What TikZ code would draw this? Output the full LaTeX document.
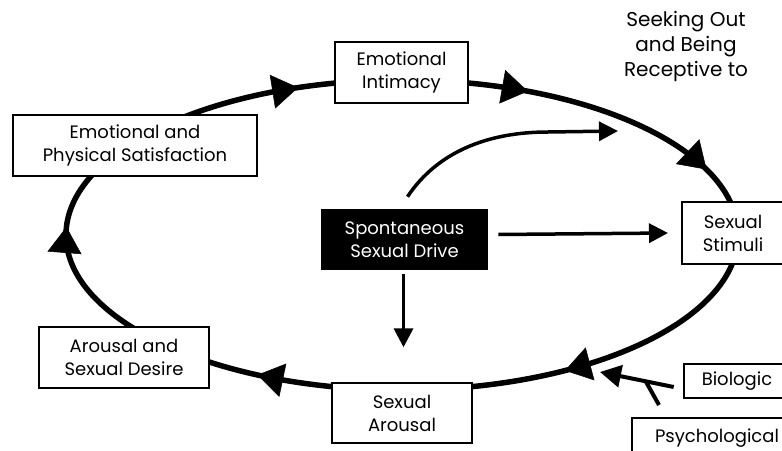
\documentclass[tikz,border=0pt]{standalone}
\usepackage{fontspec}
\setmainfont{Poppins}
\usetikzlibrary{arrows.meta,calc}
\newcommand\loopArrow[1]{%
  \draw[line width=0.5pt,-{Triangle[length=26pt,width=34pt]}]
    ({402+336*cos(#1-2)},{235+155*sin(#1-2)}) -- ({402+336*cos(#1)},{235+155*sin(#1)});}
\begin{document}
\begin{tikzpicture}[x=1pt,y=-1pt,
  box/.style={draw=black,line width=2.6pt,fill=white,align=center,inner sep=0pt,
    font=\fontsize{18}{23}\selectfont},
  blackbox/.style={box,fill=black,text=white},
  flow/.style={line width=3.5pt,-{Triangle[length=19pt,width=19pt]}},
  feed/.style={line width=4pt},
]
\useasboundingbox (0,0) rectangle (782,450);
\clip (0,0) rectangle (782,450);
\fill[white] (0,0) rectangle (782,450);

% main loop
\draw[line width=5.5pt] (402,235) ellipse [x radius=336, y radius=155];
\loopArrow{252}
\loopArrow{292}
\loopArrow{335}
\loopArrow{61}
\loopArrow{115.5}
\loopArrow{183}

% boxes
\node[box,minimum width=133pt,minimum height=61pt] (intim) at (401.5,72.5) {Emotional\\Intimacy};
\node[box,minimum width=244pt,minimum height=61pt] (satisf) at (135,145.5) {Emotional and\\Physical Satisfaction};
\node[box,minimum width=170pt,minimum height=61pt] (desire) at (124,357.5) {Arousal and\\Sexual Desire};
\node[box,minimum width=140pt,minimum height=60pt] (arousal) at (402,413) {Sexual\\Arousal};
\node[blackbox,minimum width=165pt,minimum height=59pt] (drive) at (404.5,239.5) {Spontaneous\\Sexual Drive};
\node[box,minimum width=102pt,minimum height=62pt] (stimuli) at (733,233) {Sexual\\Stimuli};
\node[box,minimum width=106pt,minimum height=34pt] (biologic) at (737,381) {Biologic};
\node[box,minimum width=170pt,minimum height=40pt] (psych) at (717,438) {Psychological};
\node[align=center,font=\fontsize{20}{25}\selectfont] (seek) at (686,46) {Seeking Out\\and Being\\Receptive to};

% arrows from the drive
\coordinate (curveend) at (618,131);
\draw[flow] ($(drive.north)+(3,-12)$) .. controls +(30,-45) and +(-60,0) .. ($(curveend)+(-70,1)$) -- (curveend);
\draw[flow] ($(drive.east)+(10,-5)$) -- (stimuli.west -| 668,0);
\draw[flow] ($(drive.south)+(-1,4)$) -- ++(0,73);

% biologic / psychological feed
\coordinate (feedtip) at (600,372);
\coordinate (feedstart) at ($(biologic.west)+(-9,6)$);
\coordinate (join) at ($(feedstart)!0.38!(feedtip)$);
\coordinate (psychstub) at (659,405);
\draw[feed,-{Triangle[length=21pt,width=22pt]}] (feedstart) -- (feedtip);
\draw[feed] (psychstub) -- (join);
\end{tikzpicture}
\end{document}
